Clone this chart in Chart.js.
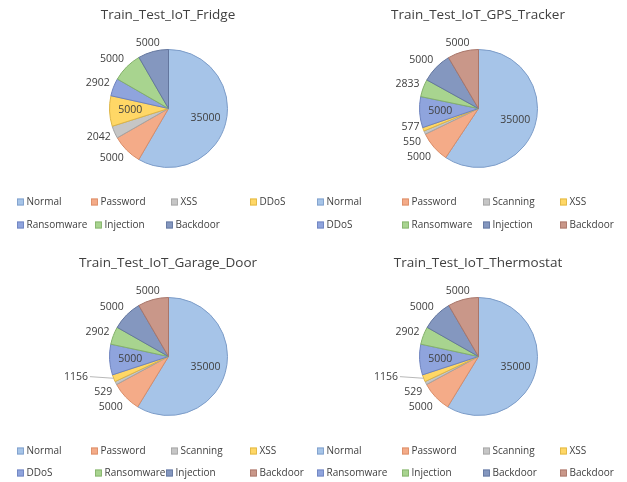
<!DOCTYPE html>
<html>
<head>
<meta charset="utf-8">
<script src="https://cdn.jsdelivr.net/npm/chart.js@4.4.1/dist/chart.umd.min.js"></script>
<style>
  html, body { margin: 0; padding: 0; background: #fff; }
  #wrap { position: relative; width: 627px; height: 482px; overflow: hidden; }
  .cell { position: absolute; }
  canvas { display: block; }
</style>
</head>
<body>
<div id="wrap">
  <div class="cell" style="left:0;top:0"><canvas id="c-fridge" width="310" height="240"></canvas></div>
  <div class="cell" style="left:310px;top:0"><canvas id="c-gps" width="317" height="240"></canvas></div>
  <div class="cell" style="left:0;top:248px"><canvas id="c-garage" width="310" height="234"></canvas></div>
  <div class="cell" style="left:310px;top:248px"><canvas id="c-thermo" width="317" height="234"></canvas></div>
</div>
<script>
// data
const fridgeLabels = ['Normal', 'Password', 'XSS', 'DDoS', 'Ransomware', 'Injection', 'Backdoor'];
const fridgeValues = [35000, 5000, 2042, 5000, 2902, 5000, 5000];

const gpsLabels = ['Normal', 'Password', 'Scanning', 'XSS', 'DDoS', 'Ransomware', 'Injection', 'Backdoor'];
const gpsValues = [35000, 5000, 550, 577, 5000, 2833, 5000, 5000];

const garageLabels = ['Normal', 'Password', 'Scanning', 'XSS', 'DDoS', 'Ransomware', 'Injection', 'Backdoor'];
const garageValues = [35000, 5000, 529, 1156, 5000, 2902, 5000, 5000];

const thermoLabels = ['Normal', 'Password', 'Scanning', 'XSS', 'Ransomware', 'Injection', 'Backdoor', 'Backdoor'];
const thermoValues = [35000, 5000, 529, 1156, 5000, 2902, 5000, 5000];

// excel-ish palette
const fills = ['#A6C4E8', '#F4AB88', '#C6C6C6', '#FFD766', '#8FA4DD', '#A8D48F', '#8497BF', '#C99789'];
const edges = ['#7C9CC8', '#D98C66', '#A3A3A3', '#DDB443', '#6D82BE', '#83B06A', '#63769E', '#A8766A'];

const FONT = '"Open Sans", "Liberation Sans", sans-serif';
const TXT = '#404040';

// draws title, data labels (excel best-fit-ish) and a grid legend
const excelPie = {
  id: 'excelPie',
  afterDraw(chart, args, o) {
    const ctx = chart.ctx;
    const meta = chart.getDatasetMeta(0);
    const ds = chart.data.datasets[0];
    ctx.save();
    ctx.textBaseline = 'middle';

    ctx.fillStyle = TXT;
    ctx.font = '13.5px ' + FONT;
    ctx.textAlign = 'center';
    ctx.fillText(o.title, 168, 15);

    ctx.font = '10.5px ' + FONT;
    const outs = [];
    meta.data.forEach((arc, i) => {
      const a = (arc.startAngle + arc.endAngle) / 2;
      const sx = Math.cos(a), sy = Math.sin(a);
      const txt = String(ds.data[i]);
      if (o.inside.includes(i)) {
        const d = arc.outerRadius * 0.65;
        ctx.fillText(txt, arc.x + sx * d, arc.y + sy * d);
        return;
      }
      const w = ctx.measureText(txt).width, h = 10;
      const R = arc.outerRadius + 4;
      const k = v => Math.max(-1, Math.min(1, v * 1.4));
      outs.push({ i, txt, w, sx, sy, arc,
        x: arc.x + sx * R + k(sx) * w / 2,
        y: arc.y + sy * R + k(sy) * h / 2 });
    });

    // push overlapping labels apart, per side
    [l => l.sx < 0, l => l.sx >= 0].forEach(f => {
      const L = outs.filter(f).sort((p, q) => p.y - q.y);
      for (let it = 0; it < 60; it++) {
        for (let j = 1; j < L.length; j++) {
          const gap = L[j].y - L[j - 1].y;
          if (gap < 15) { const d = (15 - gap) / 2; L[j].y += d; L[j - 1].y -= d; }
        }
      }
    });

    outs.forEach(l => {
      if (o.leader.includes(l.i)) {
        const dir = l.sx < 0 ? -1 : 1;
        l.x += dir * 22;
        const ex = l.arc.x + l.sx * l.arc.outerRadius, ey = l.arc.y + l.sy * l.arc.outerRadius;
        ctx.strokeStyle = '#A6A6A6';
        ctx.lineWidth = 0.8;
        ctx.beginPath();
        ctx.moveTo(l.x - dir * (l.w / 2 + 2), l.y);
        ctx.lineTo(ex, ey);
        ctx.stroke();
      }
      ctx.fillStyle = TXT;
      ctx.fillText(l.txt, l.x, l.y);
    });

    // legend, 4 per row
    ctx.textAlign = 'left';
    ctx.font = '10px ' + FONT;
    chart.data.labels.forEach((lab, i) => {
      const row = Math.floor(i / 4), col = i % 4;
      const x = o.cols[row][col], y = o.rows[row];
      ctx.fillStyle = ds.backgroundColor[i];
      ctx.fillRect(x, y - 3.5, 7, 7);
      ctx.strokeStyle = ds.borderColor[i];
      ctx.lineWidth = 0.8;
      ctx.strokeRect(x + 0.5, y - 3, 6, 6);
      ctx.fillStyle = TXT;
      ctx.fillText(lab, x + 9.5, y);
    });
    ctx.restore();
  }
};

function makePie(id, title, labels, values, cfg) {
  const cv = document.getElementById(id);
  const W = cv.width, H = cv.height;
  return new Chart(cv, {
    type: 'pie',
    data: {
      labels,
      datasets: [{
        data: values,
        backgroundColor: fills.slice(0, values.length),
        borderColor: edges.slice(0, values.length),
        borderWidth: 1,
      }],
    },
    plugins: [excelPie],
    options: {
      responsive: false, animation: false, devicePixelRatio: 1,
      layout: { padding: { left: 109, right: W - 228, top: 49, bottom: H - 168 } },
      plugins: {
        legend: { display: false },
        tooltip: { enabled: false },
        excelPie: Object.assign({ title }, cfg),
      },
    },
  });
}

const leftCols = [[17, 91, 171, 250], [17, 95, 166, 250]];
const rightCols = [[7, 92, 173, 250], [7, 92, 173, 250]];

makePie('c-fridge', 'Train_Test_IoT_Fridge', fridgeLabels, fridgeValues,
  { inside: [0, 3], leader: [], cols: leftCols, rows: [202, 225] });
makePie('c-gps', 'Train_Test_IoT_GPS_Tracker', gpsLabels, gpsValues,
  { inside: [0, 4], leader: [], cols: rightCols, rows: [202, 225] });
makePie('c-garage', 'Train_Test_IoT_Garage_Door', garageLabels, garageValues,
  { inside: [0, 4], leader: [3], cols: leftCols, rows: [203, 225] });
makePie('c-thermo', 'Train_Test_IoT_Thermostat', thermoLabels, thermoValues,
  { inside: [0, 4], leader: [3], cols: rightCols, rows: [203, 225] });
</script>
</body>
</html>
